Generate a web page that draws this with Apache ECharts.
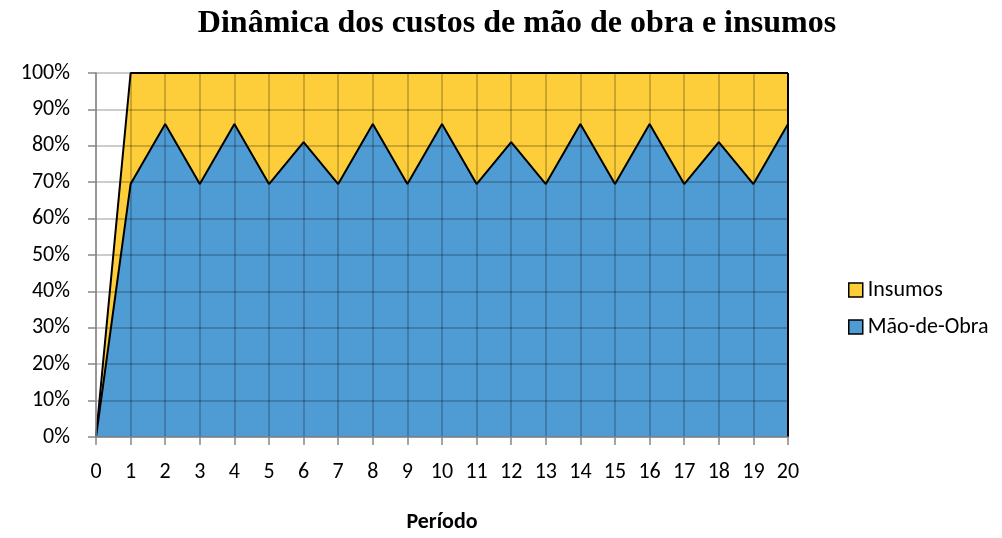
<!DOCTYPE html>
<html>
<head>
<meta charset="utf-8">
<script src="https://cdn.jsdelivr.net/npm/echarts@6/dist/echarts.min.js"></script>
<style>
html,body{margin:0;padding:0;background:#fff;}
#chart{width:1002px;height:538px;}
</style>
</head>
<body>
<div id="chart"></div>
<script>
const categories = ['0','1','2','3','4','5','6','7','8','9','10','11','12','13','14','15','16','17','18','19','20'];
const maoDeObra = [0, 69.5, 86, 69.5, 86, 69.5, 81, 69.5, 86, 69.5, 86, 69.5, 81, 69.5, 86, 69.5, 86, 69.5, 81, 69.5, 86];
const insumos = [0, 30.5, 14, 30.5, 14, 30.5, 19, 30.5, 14, 30.5, 14, 30.5, 19, 30.5, 14, 30.5, 14, 30.5, 19, 30.5, 14];
const titleText = 'Dinâmica dos custos de mão de obra e insumos';
const xName = 'Período';

const sans = 'Carlito, Lato, sans-serif';
const chart = echarts.init(document.getElementById('chart'), null, {renderer: 'canvas'});
chart.setOption({
  animation: false,
  backgroundColor: '#ffffff',
  title: {
    text: titleText,
    left: 512,
    textAlign: 'center',
    top: 3,
    textStyle: {fontFamily: '"Liberation Serif", "Times New Roman", serif', fontWeight: 'bold', fontSize: 32, color: '#000'}
  },
  legend: {
    orient: 'vertical',
    left: 843,
    top: 274,
    itemWidth: 14,
    itemHeight: 14,
    itemGap: 15,
    icon: 'rect',
    data: ['Insumos', 'Mão-de-Obra'],
    itemStyle: {borderColor: '#000', borderWidth: 1.5},
    textStyle: {fontFamily: sans, fontSize: 22, color: '#000'}
  },
  grid: {left: 96, right: 214, top: 73, bottom: 87, containLabel: false},
  xAxis: {
    type: 'category',
    data: categories,
    boundaryGap: false,
    z: 5,
    name: xName,
    nameLocation: 'middle',
    nameGap: 74,
    nameTextStyle: {fontFamily: sans, fontWeight: 'bold', fontSize: 22, color: '#000'},
    axisLine: {lineStyle: {color: '#868686', width: 1.5}},
    axisTick: {show: true, inside: false, length: 8, lineStyle: {color: '#868686', width: 1.5}},
    axisLabel: {fontFamily: sans, fontSize: 22, color: '#000', margin: 24, interval: 0},
    splitLine: {show: true, lineStyle: {color: 'rgba(0,0,0,0.27)', width: 1.5}}
  },
  yAxis: {
    type: 'value',
    min: 0,
    max: 100,
    interval: 10,
    z: 5,
    axisLine: {show: true, lineStyle: {color: '#868686', width: 1.5}},
    axisTick: {show: true, inside: false, length: 8, lineStyle: {color: '#868686', width: 1.5}},
    axisLabel: {fontFamily: sans, fontSize: 22, color: '#000', margin: 26, formatter: '{value}%'},
    splitLine: {show: true, lineStyle: {color: 'rgba(0,0,0,0.27)', width: 1.5}}
  },
  series: [
    {
      name: 'Mão-de-Obra',
      type: 'line',
      stack: 'total',
      data: maoDeObra,
      z: 3,
      symbol: 'none',
      color: '#4F9BD4',
      lineStyle: {color: '#000', width: 2},
      areaStyle: {color: '#4F9BD4', opacity: 1}
    },
    {
      name: 'Insumos',
      type: 'line',
      stack: 'total',
      data: insumos,
      z: 2,
      symbol: 'none',
      color: '#FECD3A',
      lineStyle: {color: '#000', width: 2},
      areaStyle: {color: '#FECD3A', opacity: 1},
      markLine: {
        silent: true,
        symbol: 'none',
        label: {show: false},
        lineStyle: {color: '#000', width: 2, type: 'solid'},
        data: [{xAxis: categories[categories.length - 1]}]
      }
    }
  ]
});
</script>
</body>
</html>
